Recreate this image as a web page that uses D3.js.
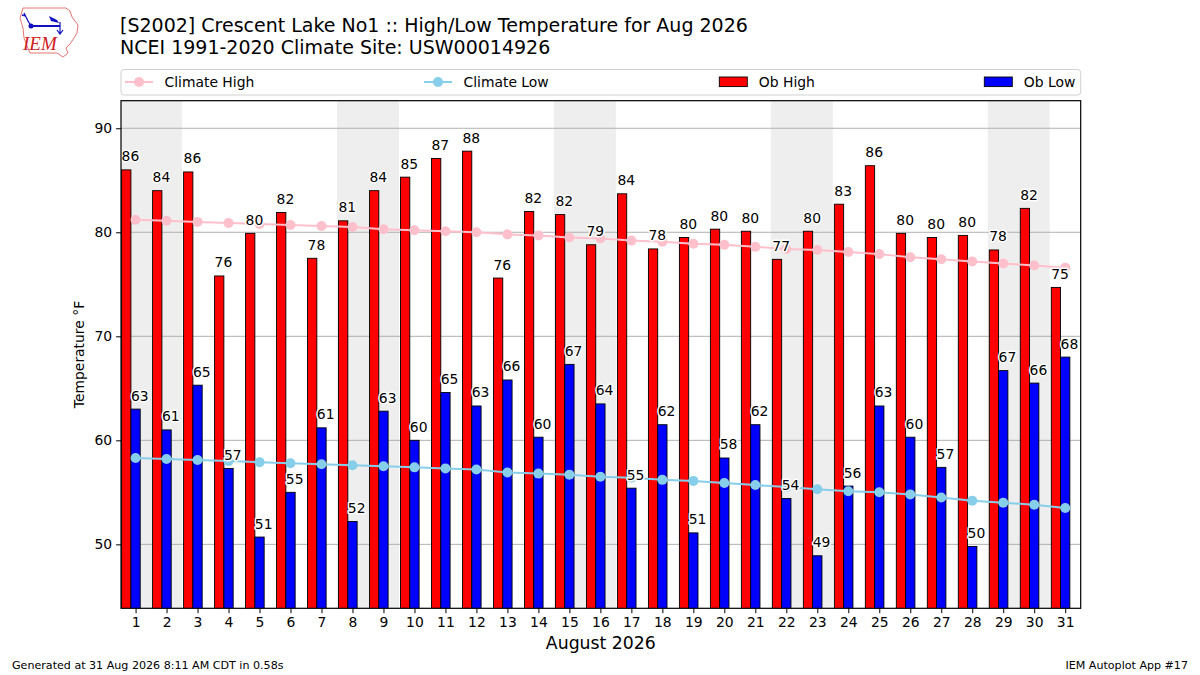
<!DOCTYPE html>
<html>
<head>
<meta charset="utf-8">
<script src="https://cdn.jsdelivr.net/npm/d3@7"></script>
<style>
body { margin: 0; background: #fff; }
svg { font-family: "DejaVu Sans", sans-serif; }
</style>
</head>
<body>
<svg id="chart" width="1200" height="675"></svg>
<script>
'use strict'

const days = d3.range(1, 32)
const obHigh = [86.0, 84.0, 85.8, 75.8, 79.9, 81.9, 77.5, 81.1, 84.0, 85.3, 87.1, 87.8, 75.6, 82.0, 81.7, 78.8,
	83.7, 78.4, 79.5, 80.3, 80.1, 77.4, 80.1, 82.7, 86.4, 79.9, 79.5, 79.7, 78.3, 82.3, 74.7]
const obLow = [63.0, 61.0, 65.3, 57.3, 50.7, 55.0, 61.2, 52.2, 62.8, 60.0, 64.6, 63.3, 65.8, 60.3, 67.3, 63.5,
	55.4, 61.5, 51.1, 58.3, 61.5, 54.4, 48.9, 55.6, 63.3, 60.3, 57.4, 49.8, 66.7, 65.5, 68.0]
const climHigh = [81.2, 81.1, 81.0, 80.9, 80.8, 80.7, 80.6, 80.5, 80.3, 80.2, 80.1, 80.0, 79.8, 79.7, 79.5, 79.4,
	79.2, 79.1, 78.9, 78.8, 78.6, 78.4, 78.3, 78.1, 77.9, 77.6, 77.4, 77.2, 77.0, 76.8, 76.6]
const climLow = [58.3, 58.2, 58.1, 58.0, 57.9, 57.8, 57.7, 57.6, 57.5, 57.4, 57.3, 57.2, 56.9, 56.8, 56.7, 56.5,
	56.4, 56.2, 56.1, 55.9, 55.7, 55.5, 55.3, 55.1, 55.0, 54.8, 54.5, 54.2, 54.0, 53.8, 53.5]
const weekends = [1, 8, 15, 22, 29]
const yTicks = [50, 60, 70, 80, 90]

const titleLines = ['[S2002] Crescent Lake No1 :: High/Low Temperature for Aug 2026',
	'NCEI 1991-2020 Climate Site: USW00014926']

const margins = {left: 121, right: 1080.7, top: 100.7, bottom: 608.3}
const svg = d3.select('#chart')

const x = d3.scaleLinear().domain([0.53, 31.5]).range([margins.left, margins.right])
const y = d3.scaleLinear().domain([43.85, 92.65]).range([margins.bottom, margins.top])
const dayW = x(1) - x(0)

svg.append('defs').append('clipPath').attr('id', 'clip')
	.append('rect')
	.attr('x', margins.left).attr('y', margins.top)
	.attr('width', margins.right - margins.left).attr('height', margins.bottom - margins.top)

const plot = svg.append('g').attr('clip-path', 'url(#clip)')

// weekend shading
plot.selectAll('.wk').data(weekends).enter()
	.append('rect')
	.attr('x', d => x(d - 0.5))
	.attr('width', dayW * 2)
	.attr('y', margins.top)
	.attr('height', margins.bottom - margins.top)
	.attr('fill', '#eeeeee')

// grid
plot.selectAll('.grid').data(yTicks).enter()
	.append('line')
	.attr('x1', margins.left).attr('x2', margins.right)
	.attr('y1', d => y(d)).attr('y2', d => y(d))
	.attr('stroke', '#b0b0b0').attr('stroke-width', 1)

const barW = dayW * 0.3

plot.selectAll('.hi').data(days).enter()
	.append('rect')
	.attr('x', d => x(d - 0.45))
	.attr('width', barW)
	.attr('y', (d, i) => y(obHigh[i]))
	.attr('height', (d, i) => margins.bottom + 5 - y(obHigh[i]))
	.attr('fill', '#ff0000').attr('stroke', '#000').attr('stroke-width', 0.9)

plot.selectAll('.lo').data(days).enter()
	.append('rect')
	.attr('x', d => x(d - 0.15))
	.attr('width', barW)
	.attr('y', (d, i) => y(obLow[i]))
	.attr('height', (d, i) => margins.bottom + 5 - y(obLow[i]))
	.attr('fill', '#0000ff').attr('stroke', '#000').attr('stroke-width', 0.9)

function climLine(vals, color) {
	const line = d3.line().x((d, i) => x(days[i])).y(d => y(d))
	plot.append('path').datum(vals)
		.attr('d', line).attr('fill', 'none')
		.attr('stroke', color).attr('stroke-width', 2)
	plot.selectAll(null).data(vals).enter()
		.append('circle')
		.attr('cx', (d, i) => x(days[i])).attr('cy', d => y(d))
		.attr('r', 5).attr('fill', color)
}
climLine(climHigh, '#ffc0cb')
climLine(climLow, '#87ceeb')

function labels(vals, off) {
	svg.selectAll(null).data(vals).enter()
		.append('text')
		.attr('x', (d, i) => x(days[i] + off))
		.attr('y', d => y(d) - 8.5)
		.attr('font-size', '13.9px')
		.attr('fill', '#000')
		.attr('stroke', '#fff').attr('stroke-width', 3).attr('paint-order', 'stroke')
		.attr('stroke-linejoin', 'round')
		.text(d => Math.round(d))
}
labels(obHigh, -0.45)
labels(obLow, -0.15)

// frame
svg.append('rect')
	.attr('x', margins.left).attr('y', margins.top)
	.attr('width', margins.right - margins.left).attr('height', margins.bottom - margins.top)
	.attr('fill', 'none').attr('stroke', '#000').attr('stroke-width', 1.2)

// axes
const xAxis = d3.axisBottom(x).tickValues(days).tickSize(4.9).tickPadding(4).tickFormat(d3.format('d'))
svg.append('g')
	.attr('transform', 'translate(0,' + margins.bottom + ')')
	.call(xAxis)
	.call(g => g.select('.domain').remove())
	.selectAll('text').attr('font-size', '13.9px').attr('font-family', 'DejaVu Sans').attr('fill', '#000')

const yAxis = d3.axisLeft(y).tickValues(yTicks).tickSize(4.9).tickPadding(4)
svg.append('g')
	.attr('transform', 'translate(' + margins.left + ',0)')
	.call(yAxis)
	.call(g => g.select('.domain').remove())
	.selectAll('text').attr('font-size', '13.9px').attr('font-family', 'DejaVu Sans').attr('fill', '#000')

svg.append('text')
	.attr('transform', 'translate(84,' + ((margins.top + margins.bottom) / 2) + ') rotate(-90)')
	.attr('text-anchor', 'middle')
	.attr('font-size', '13.9px')
	.text('Temperature °F')

svg.append('text')
	.attr('x', (margins.left + margins.right) / 2).attr('y', 649)
	.attr('text-anchor', 'middle')
	.attr('font-size', '17.3px')
	.text('August 2026')

// title
svg.selectAll('.title').data(titleLines).enter()
	.append('text')
	.attr('x', 120).attr('y', (d, i) => 31.5 + i * 22)
	.attr('font-size', '19px')
	.text(d => d)

// legend
const legend = svg.append('g')
legend.append('rect')
	.attr('x', margins.left).attr('y', 69.5)
	.attr('width', margins.right - margins.left).attr('height', 25.5)
	.attr('rx', 3).attr('fill', '#fff').attr('fill-opacity', 0.8)
	.attr('stroke', '#d0d0d0').attr('stroke-width', 1)

const legendItems = [
	{name: 'Climate High', color: '#ffc0cb', kind: 'line', x: 125},
	{name: 'Climate Low', color: '#87ceeb', kind: 'line', x: 424},
	{name: 'Ob High', color: '#ff0000', kind: 'bar', x: 719.3},
	{name: 'Ob Low', color: '#0000ff', kind: 'bar', x: 984.3}
]
legendItems.forEach(it => {
	const g = legend.append('g').attr('transform', 'translate(' + it.x + ',82)')
	if (it.kind === 'line') {
		g.append('line').attr('x1', 0).attr('x2', 28).attr('stroke', it.color).attr('stroke-width', 2)
		g.append('circle').attr('cx', 14).attr('r', 5).attr('fill', it.color)
	} else {
		g.append('rect').attr('x', 0).attr('y', -5).attr('width', 28).attr('height', 9.6)
			.attr('fill', it.color).attr('stroke', '#000').attr('stroke-width', 0.9)
	}
	g.append('text').attr('x', 39.5).attr('y', 5).attr('font-size', '13.9px').text(it.name)
})

// footer
svg.append('text').attr('x', 12).attr('y', 668.5).attr('font-size', '11.1px')
	.text('Generated at 31 Aug 2026 8:11 AM CDT in 0.58s')
svg.append('text').attr('x', 1188).attr('y', 668.5).attr('font-size', '11.1px').attr('text-anchor', 'end')
	.text('IEM Autoplot App #17')

// logo (rough)
const logo = svg.append('g')
logo.append('path')
	.attr('d', 'M23,8 L66,8 L70,11 L72,17 L78,25 L77,33 L74,38 L70,44 L66,48 L68,53 L63,57 L57,53 L30,53 L27,46 L24,38 L23,28 L20,18 Z')
	.attr('fill', 'none').attr('stroke', '#e05050').attr('stroke-width', 0.8)
logo.append('line').attr('x1', 31).attr('x2', 60).attr('y1', 26).attr('y2', 26)
	.attr('stroke', '#1010c0').attr('stroke-width', 2)
logo.append('circle').attr('cx', 31).attr('cy', 26).attr('r', 2.5).attr('fill', '#1010c0')
logo.append('path').attr('d', 'M24,13 L28,21 L31,26 M22,15 L26,16').attr('fill', 'none')
	.attr('stroke', '#1010c0').attr('stroke-width', 1.3)
logo.append('path').attr('d', 'M49,16 L57,20 L59,23 L51,21 Z').attr('fill', '#1010c0')
logo.append('path').attr('d', 'M60,22 L60,33 M57,30 L60,34 L63,30').attr('fill', 'none')
	.attr('stroke', '#1010c0').attr('stroke-width', 1.2)
logo.append('text').attr('x', 23).attr('y', 50)
	.attr('font-family', 'Liberation Serif').attr('font-style', 'italic')
	.attr('font-size', '19px').attr('fill', '#d02020').text('IEM')
</script>
</body>
</html>
